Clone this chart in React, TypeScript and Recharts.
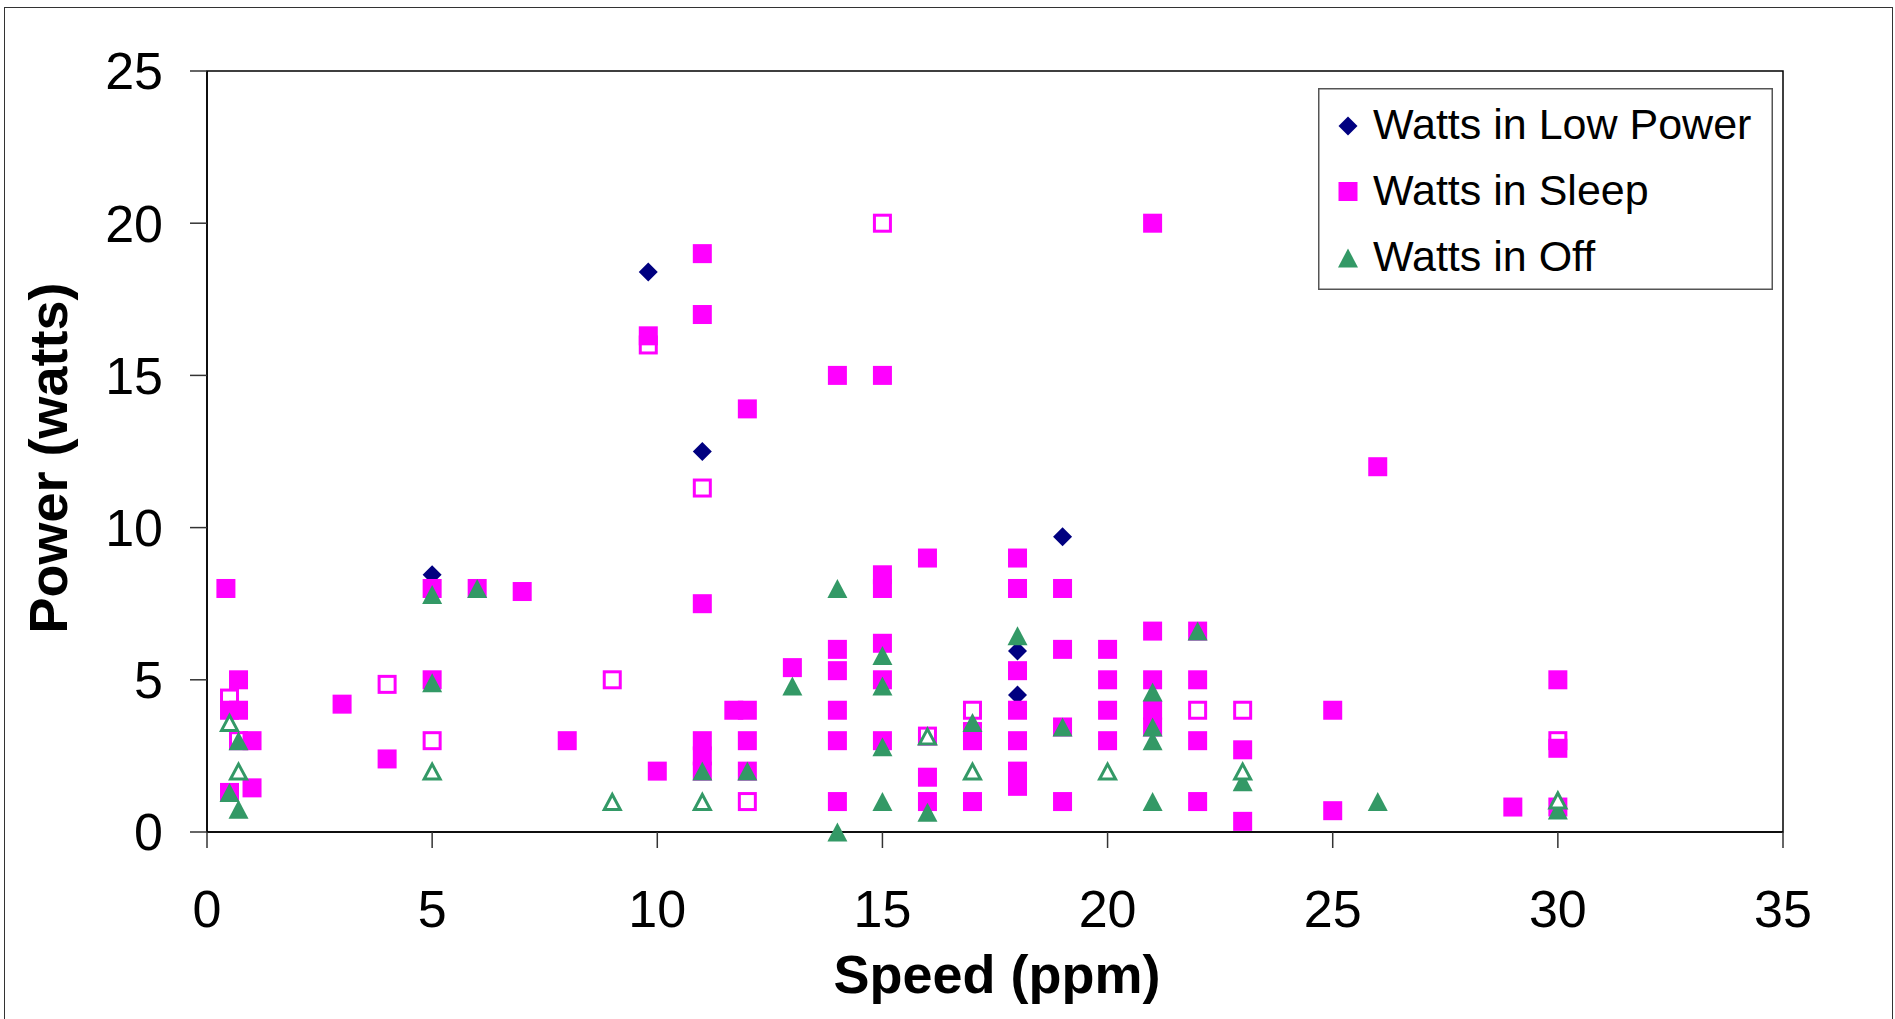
import React from 'react';
import { ScatterChart, Scatter, XAxis, YAxis, ReferenceArea, Legend, Label } from 'recharts';

// ---- data (Speed in ppm, Power in watts) ----
const lowPowerSpeed = [5, 9.8, 11, 18, 18, 19];
const lowPowerWatts = [8.45, 18.4, 12.5, 5.95, 4.5, 9.7];

const sleepSpeed = [
  0.42, 0.7, 0.5, 0.7, 1, 1, 0.5, 3, 4, 5, 5, 6, 7, 8, 9.8, 10,
  11, 11, 11, 11, 11, 11, 11.7, 12, 12, 12, 12, 13,
  14, 14, 14, 14, 14, 14, 15, 15, 15, 15, 15, 15,
  16, 16, 16, 17, 17, 18, 18, 18, 18, 18, 18, 18,
  19, 19, 19, 19, 20, 20, 20, 20, 21, 21, 21, 21, 21,
  22, 22, 22, 22, 23, 23, 25, 25, 26, 29, 30, 30, 30,
];
const sleepWatts = [
  8, 5, 4, 4, 3, 1.45, 1.3, 4.2, 2.4, 8, 5, 8, 7.9, 3, 16.3, 2,
  19, 17, 7.5, 3, 2.5, 2, 4, 4, 13.9, 3, 2, 5.4,
  15, 6, 5.3, 4, 3, 1, 15, 8.45, 8, 6.2, 5, 3,
  9, 1.8, 1, 3, 1, 9, 8, 5.3, 4, 3, 2, 1.5,
  8, 6, 3.45, 1, 6, 5, 4, 3, 20, 6.6, 5, 4, 3.45,
  6.6, 5, 3, 1, 2.7, 0.35, 4, 0.7, 12, 0.82, 5, 2.75, 0.82,
];

const sleepOpenSpeed = [0.5, 0.7, 4, 5, 9, 9.8, 11, 12, 15, 16, 17, 17, 22, 23, 30];
const sleepOpenWatts = [4.4, 3, 4.85, 3, 5, 16.0, 11.3, 1, 20, 3.15, 4, 3.3, 4, 4, 3.0];

const offSpeed = [
  0.7, 0.5, 0.7, 5, 5, 6, 11, 12, 13, 14, 14, 15, 15, 15, 15, 16, 17,
  18, 19, 21, 21, 21, 21, 22, 23, 26, 30,
];
const offWatts = [
  3, 1.3, 0.75, 7.8, 4.9, 8, 2, 2, 4.8, 8, 0, 5.8, 4.8, 2.8, 1, 0.65, 3.6,
  6.45, 3.45, 4.6, 3.45, 3, 1, 6.6, 1.65, 1, 0.72,
];

const offOpenSpeed = [0.5, 0.7, 5, 9, 11, 16, 17, 20, 23, 30];
const offOpenWatts = [3.6, 2, 2, 1, 1, 3.15, 2, 2, 2, 1.05];

const xTicks = [0, 5, 10, 15, 20, 25, 30, 35];
const yTicks = [0, 5, 10, 15, 20, 25];

const seriesNames = ['Watts in Low Power', 'Watts in Sleep', 'Watts in Off'];

const toPoints = (xs: number[], ys: number[]) => xs.map((x, i) => ({ speed: x, watts: ys[i] }));

const NAVY = '#000080';
const MAGENTA = '#FF00FF';
const GREEN = '#339966';
const FONT = '"Liberation Sans", Arial, sans-serif';

// ---- marker shapes ----
const diamondPts = (cx: number, cy: number, r: number) =>
  `${cx},${cy - r} ${cx + r},${cy} ${cx},${cy + r} ${cx - r},${cy}`;
const triPts = (cx: number, cy: number, w: number, h: number) =>
  `${cx},${cy - h / 2} ${cx + w / 2},${cy + h / 2} ${cx - w / 2},${cy + h / 2}`;

const DiamondShape = (p: any) => <polygon points={diamondPts(p.cx, p.cy, 9.5)} fill={NAVY} />;
const SquareShape = (p: any) => <rect x={p.cx - 9.5} y={p.cy - 9.5} width={19} height={19} fill={MAGENTA} />;
const OpenSquareShape = (p: any) => (
  <rect x={p.cx - 8} y={p.cy - 8} width={16} height={16} fill="#fff" stroke={MAGENTA} strokeWidth={3} />
);
const TriangleShape = (p: any) => <polygon points={triPts(p.cx, p.cy, 20, 19)} fill={GREEN} />;
const OpenTriangleShape = (p: any) => (
  <polygon points={triPts(p.cx, p.cy + 0.5, 16, 15)} fill="#fff" stroke={GREEN} strokeWidth={3} strokeLinejoin="miter" />
);

const LegendBox = () => (
  <svg width={455} height={202} style={{ display: 'block' }}>
    <rect x={0.75} y={0.75} width={453.5} height={200.5} fill="#fff" stroke="#555" strokeWidth={1.5} />
    <polygon points={diamondPts(30, 38, 9.5)} fill={NAVY} />
    <rect x={20.5} y={94} width={19} height={19} fill={MAGENTA} />
    <polygon points={triPts(30, 170, 20, 19)} fill={GREEN} />
    {seriesNames.map((n, i) => (
      <text key={n} x={55} y={51 + i * 66} fontSize={43} fontFamily={FONT} fill="#000">
        {n}
      </text>
    ))}
  </svg>
);

export default function App() {
  return (
    <div style={{ position: 'fixed', left: 0, top: 0, width: 1895, height: 1019, overflow: 'hidden', background: '#fff' }}>
      <div
        style={{
          position: 'absolute',
          left: 4,
          top: 7,
          width: 1887,
          height: 1100,
          border: '1.5px solid #333',
        }}
      />
      <div style={{ position: 'absolute', left: 0, top: 0 }}>
        <ScatterChart width={1895} height={1019} margin={{ top: 71, right: 112, bottom: 67, left: 57 }}>
          <XAxis
            type="number"
            dataKey="speed"
            domain={[0, 35]}
            ticks={xTicks}
            interval={0}
            height={120}
            axisLine={{ stroke: '#000', strokeWidth: 1.5 }}
            tickLine={{ stroke: '#333', strokeWidth: 1.5 }}
            tickSize={16}
            tickMargin={42}
            tick={{ fontSize: 52, fill: '#000', fontFamily: FONT }}
          >
            <Label
              content={() => (
                <text x={997} y={993} textAnchor="middle" fontSize={54} fontWeight="bold" fontFamily={FONT} fill="#000">
                  Speed (ppm)
                </text>
              )}
            />
          </XAxis>
          <YAxis
            type="number"
            dataKey="watts"
            domain={[0, 25]}
            ticks={yTicks}
            interval={0}
            width={150}
            axisLine={{ stroke: '#000', strokeWidth: 1.5 }}
            tickLine={{ stroke: '#333', strokeWidth: 1.5 }}
            tickSize={17}
            tickMargin={27}
            tick={{ fontSize: 52, fill: '#000', fontFamily: FONT }}
          >
            <Label
              content={() => (
                <text
                  x={67}
                  y={458}
                  transform="rotate(-90, 67, 458)"
                  textAnchor="middle"
                  fontSize={54}
                  fontWeight="bold"
                  fontFamily={FONT}
                  fill="#000"
                >
                  Power (watts)
                </text>
              )}
            />
          </YAxis>
          <ReferenceArea x1={0} x2={35} y1={0} y2={25} fill="none" stroke="#000" strokeWidth={1.5} ifOverflow="visible" />
          <Scatter
            name="Watts in Sleep (open)"
            data={toPoints(sleepOpenSpeed, sleepOpenWatts)}
            shape={OpenSquareShape}
            legendType="none"
            isAnimationActive={false}
          />
          <Scatter
            name={seriesNames[0]}
            data={toPoints(lowPowerSpeed, lowPowerWatts)}
            shape={DiamondShape}
            fill={NAVY}
            isAnimationActive={false}
          />
          <Scatter
            name={seriesNames[1]}
            data={toPoints(sleepSpeed, sleepWatts)}
            shape={SquareShape}
            fill={MAGENTA}
            isAnimationActive={false}
          />
          <Scatter
            name={seriesNames[2]}
            data={toPoints(offSpeed, offWatts)}
            shape={TriangleShape}
            fill={GREEN}
            isAnimationActive={false}
          />
          <Scatter
            name="Watts in Off (open)"
            data={toPoints(offOpenSpeed, offOpenWatts)}
            shape={OpenTriangleShape}
            legendType="none"
            isAnimationActive={false}
          />
          <Legend
            layout="horizontal"
            verticalAlign="middle"
            align="center"
            wrapperStyle={{ position: 'absolute', left: 1318, top: 88, width: 455, height: 202 }}
            content={() => <LegendBox />}
          />
        </ScatterChart>
      </div>
    </div>
  );
}
